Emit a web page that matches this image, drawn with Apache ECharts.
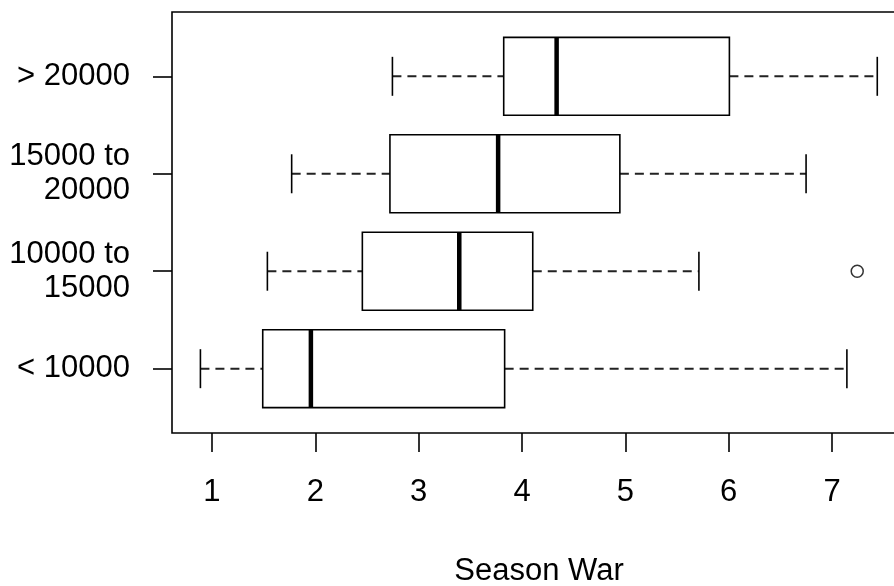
<!DOCTYPE html>
<html>
<head>
<meta charset="utf-8">
<script src="https://cdn.jsdelivr.net/npm/echarts@6/dist/echarts.min.js"></script>
<style>
html,body{margin:0;padding:0;background:#fff;}
#main{width:894px;height:586px;}
</style>
</head>
<body>
<div id="main"></div>
<script>
// Data (horizontal boxplot, Season War by salary group)
const categories = ['< 10000', '10000 to\n15000', '15000 to\n20000', '> 20000'];
const lowerWhisker = [0.888, 1.536, 1.771, 2.746];
const q1 = [1.491, 2.455, 2.722, 3.823];
const median = [1.957, 3.393, 3.769, 4.335];
const q3 = [3.832, 4.104, 4.947, 6.007];
const upperWhisker = [7.144, 5.712, 6.749, 7.438];
const outlierGroup = ['10000 to\n15000'];
const outlierValue = [7.244];
const xTicks = [1, 2, 3, 4, 5, 6, 7];
const xTitle = 'Season War';

const FONT = '"Liberation Sans", Arial, Helvetica, sans-serif';

const boxData = categories.map((c, i) => [i + 1, lowerWhisker[i], q1[i], median[i], q3[i], upperWhisker[i]]);
const outlierData = outlierGroup.map((g, i) => [outlierValue[i], categories.indexOf(g) + 1]);

function renderBox(params, api) {
  const y = api.value(0);
  const lw = api.coord([api.value(1), y]);
  const b1 = api.coord([api.value(2), y]);
  const md = api.coord([api.value(3), y]);
  const b3 = api.coord([api.value(4), y]);
  const uw = api.coord([api.value(5), y]);
  const half = api.size([0, 0.4])[1];
  const staple = api.size([0, 0.2])[1];
  const cy = lw[1];
  const dashStyle = {stroke: '#222', lineWidth: 2, lineDash: [9, 6]};
  const solid = {stroke: '#000', lineWidth: 1.6};
  return {
    type: 'group',
    children: [
      {type: 'line', shape: {x1: lw[0], y1: cy, x2: b1[0], y2: cy}, style: dashStyle},
      {type: 'line', shape: {x1: b3[0], y1: cy, x2: uw[0], y2: cy}, style: dashStyle},
      {type: 'line', shape: {x1: lw[0], y1: cy - staple, x2: lw[0], y2: cy + staple}, style: solid},
      {type: 'line', shape: {x1: uw[0], y1: cy - staple, x2: uw[0], y2: cy + staple}, style: solid},
      {type: 'rect', shape: {x: b1[0], y: cy - half, width: b3[0] - b1[0], height: 2 * half},
        style: {fill: '#fff', stroke: '#000', lineWidth: 1.6}},
      {type: 'line', shape: {x1: md[0], y1: cy - half, x2: md[0], y2: cy + half},
        style: {stroke: '#000', lineWidth: 4.5}}
    ]
  };
}

const chart = echarts.init(document.getElementById('main'), null, {renderer: 'canvas'});
chart.setOption({
  animation: false,
  backgroundColor: '#fff',
  grid: {left: 172, top: 12, width: 734, height: 421, outerBoundsMode: 'none', containLabel: false,
    show: true, borderColor: '#000', borderWidth: 1.6, backgroundColor: 'transparent'},
  xAxis: {
    type: 'value', min: 0.613, max: 7.716,
    name: xTitle, nameLocation: 'middle', nameGap: 123,
    nameTextStyle: {fontFamily: FONT, fontSize: 31, color: '#000'},
    axisLine: {show: false},
    splitLine: {show: false},
    axisTick: {show: true, length: 19, customValues: xTicks, lineStyle: {color: '#000', width: 1.6}},
    axisLabel: {customValues: xTicks, margin: 44, fontFamily: FONT, fontSize: 31, color: '#000'}
  },
  yAxis: {
    type: 'value', min: 0.34, max: 4.66,
    axisLine: {show: false},
    splitLine: {show: false},
    axisTick: {show: true, length: 19, customValues: [1, 2, 3, 4], lineStyle: {color: '#000', width: 1.6}},
    axisLabel: {customValues: [1, 2, 3, 4], margin: 42, fontFamily: FONT, fontSize: 31, color: '#000', lineHeight: 34, align: 'right',
      formatter: v => categories[Math.round(v) - 1] || ''}
  },
  series: [
    {type: 'custom', renderItem: renderBox, data: boxData, encode: {x: [1, 2, 3, 4, 5], y: 0}, clip: false, z: 2},
    {type: 'scatter', data: outlierData, symbol: 'circle', symbolSize: 12,
      itemStyle: {color: '#fff', borderColor: '#000', borderWidth: 1.5}, z: 3}
  ]
});
</script>
</body>
</html>
